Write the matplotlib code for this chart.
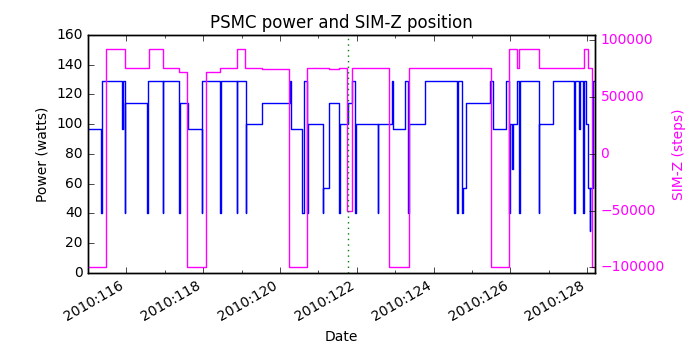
import numpy as np
import matplotlib
matplotlib.use('Agg')
import matplotlib.pyplot as plt
from matplotlib.ticker import FuncFormatter, MultipleLocator

plt.style.use('classic')

# PSMC power, step changes: (day of year 2010, watts)
power_t = [115.01, 115.350, 115.376, 115.888, 115.914, 115.956, 115.974, 116.538, 116.572,
           116.954, 116.967, 117.378, 117.391, 117.620, 117.969, 117.984, 118.445, 118.458,
           118.879, 118.892, 119.113, 119.126, 119.545, 120.252, 120.283, 120.585, 120.622,
           120.715, 120.728, 121.116, 121.131, 121.280, 121.540, 121.553, 121.782, 121.886,
           121.956, 121.969, 122.546, 122.559, 122.910, 122.936, 123.256, 123.334, 123.347,
           123.776, 124.616, 124.629, 124.746, 124.765, 124.835, 125.467, 125.537, 125.883,
           125.969, 125.982, 126.047, 126.060, 126.161, 126.229, 126.242, 126.741, 126.754,
           127.098, 127.660, 127.672, 127.782, 127.808, 127.893, 127.906, 127.956, 128.023,
           128.068, 128.081, 128.146]
power_w = [97, 40, 129, 97, 129, 40, 114, 40, 129,
           40, 129, 40, 114, 97, 40, 129, 40, 129,
           40, 129, 40, 100, 114, 129, 97, 40, 129,
           40, 100, 40, 57, 114, 40, 100, 114, 129,
           40, 100, 40, 100, 129, 97, 129, 40, 100,
           129, 40, 129, 40, 57, 114, 129, 97, 129,
           40, 100, 70, 100, 129, 40, 129, 40, 100,
           129, 40, 129, 97, 129, 40, 129, 100, 57,
           28, 57, 129]

# SIM-Z position, step changes
simz_t = [115.01, 115.472, 115.974, 116.598, 116.944, 117.378, 117.579, 118.073, 118.445,
          118.879, 119.103, 119.529, 120.239, 120.715, 121.287, 121.547, 121.756, 121.870,
          122.848, 123.360, 125.485, 125.961, 126.161, 126.229, 126.741, 127.912, 128.016,
          128.112]
simz_pos = [-99300, 92500, 75600, 92500, 75600, 72200, -99300, 72200, 75600,
            92500, 75600, 74400, -99300, 75600, 74600, 75600, -50200, 75600,
            -99300, 75600, -99300, 92500, 75600, 92500, 75600, 92500, 75600,
            -99300]

t_end = 128.2
t_mark = 121.78

fig = plt.figure(figsize=(7, 3.5), dpi=100)
ax = fig.add_subplot(1, 1, 1)
ax.plot(power_t + [t_end], power_w + [power_w[-1]], 'b-', drawstyle='steps-post')
ax.set_xlim(115.01, t_end)
ax.set_ylim(0, 160)
ax.set_ylabel('Power (watts)', fontsize=10)
ax.set_xlabel('Date', fontsize=10)
ax.set_title('PSMC power and SIM-Z position', fontsize=12)
ax.xaxis.set_major_locator(MultipleLocator(2))
ax.xaxis.set_minor_locator(MultipleLocator(1))
ax.xaxis.set_major_formatter(FuncFormatter(lambda x, p: '2010:%03d' % int(round(x))))
ax.tick_params(labelsize=10)
for lab in ax.get_xticklabels():
    lab.set_rotation(30)
    lab.set_ha('right')

ax2 = ax.twinx()
ax2.plot(simz_t + [t_end], simz_pos + [simz_pos[-1]], '-', color='#ff00ff', drawstyle='steps-post')
ax2.axvline(t_mark, color='g', linestyle=':')
ax2.set_xlim(115.01, t_end)
ax2.set_ylim(-104700, 104700)
ax2.set_yticks([-100000, -50000, 0, 50000, 100000])
ax2.set_ylabel('SIM-Z (steps)', color='#ff00ff', fontsize=10)
ax2.tick_params(labelsize=10, labelcolor='#ff00ff')

fig.subplots_adjust(left=0.126, right=0.85, bottom=0.221, top=0.9)
fig.savefig('out.png', dpi=100)
